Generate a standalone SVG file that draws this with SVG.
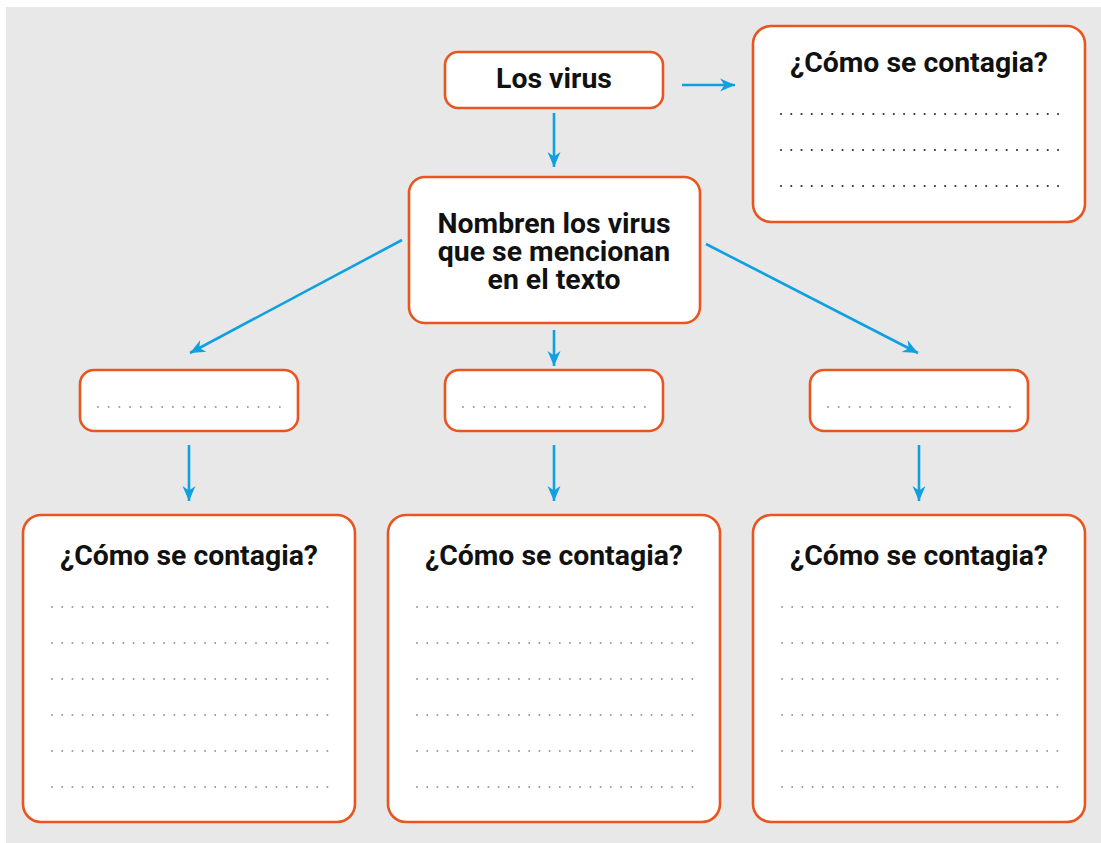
<svg xmlns="http://www.w3.org/2000/svg" width="1101" height="843" viewBox="0 0 1101 843">
<style>
.box{fill:#fff;stroke:#E9551F;stroke-width:2.6}
.t{font-family:Roboto,"Liberation Sans",sans-serif;font-weight:bold;font-size:28.4px;fill:#111;text-anchor:middle}
.dk{stroke:#333;stroke-width:2.2;stroke-linecap:round;stroke-dasharray:0 10.26;fill:none}
.gr{stroke:#9a9a9a;stroke-width:2;stroke-linecap:round;stroke-dasharray:0 10.2;fill:none}
.ar{stroke:#0FA0E2;stroke-width:2.6;fill:none;marker-end:url(#ah)}
</style>
<defs>
<marker id="ah" markerUnits="userSpaceOnUse" markerWidth="20" markerHeight="16" viewBox="-16 -8 18 16" refX="0" refY="0" orient="auto">
<path d="M0,0 L-15,-6.5 L-10.5,0 L-15,6.5 Z" fill="#0FA0E2"/>
</marker>
</defs>
<rect x="6" y="7" width="1095" height="836" fill="#E8E8E8"/>
<g id="connectors">
<line class="ar" x1="682" y1="85" x2="735" y2="85"/>
<line class="ar" x1="554" y1="113" x2="554" y2="167"/>
<line class="ar" x1="402" y1="240" x2="190" y2="353"/>
<line class="ar" x1="706" y1="244" x2="918" y2="353"/>
<line class="ar" x1="554" y1="330" x2="554" y2="366"/>
<line class="ar" x1="189" y1="445" x2="189" y2="501"/>
<line class="ar" x1="554" y1="445" x2="554" y2="501"/>
<line class="ar" x1="919" y1="445" x2="919" y2="501"/>
</g>
<g id="los-virus">
<rect class="box" x="445" y="52" width="218" height="56" rx="13"/>
<text class="t" x="554" y="88">Los virus</text>
</g>
<g id="contagia-top">
<rect class="box" x="753" y="26" width="332" height="196" rx="18"/>
<text class="t" x="919" y="72">¿Cómo se contagia?</text>
<path class="dk" d="M781,114H1059M781,150H1059M781,186H1059"/>
</g>
<g id="nombren">
<rect class="box" x="409" y="177" width="291" height="146" rx="16"/>
<text class="t" x="554" y="233"><tspan x="554" y="233">Nombren los virus</tspan><tspan x="554" y="261">que se mencionan</tspan><tspan x="554" y="289">en el texto</tspan></text>
</g>
<g id="virus-1">
<rect class="box" x="80" y="370" width="218" height="61" rx="14"/>
<path class="gr" style="stroke-dasharray:0 10.7" d="M98,407H281"/>
</g>
<g id="virus-2">
<rect class="box" x="445" y="370" width="218" height="61" rx="14"/>
<path class="gr" style="stroke-dasharray:0 10.7" d="M463,407H646"/>
</g>
<g id="virus-3">
<rect class="box" x="810" y="370" width="218" height="61" rx="14"/>
<path class="gr" style="stroke-dasharray:0 10.7" d="M828,407H1011"/>
</g>
<g id="contagia-1">
<rect class="box" x="23" y="515" width="332" height="307" rx="18"/>
<text class="t" x="189" y="565">¿Cómo se contagia?</text>
<path class="gr" d="M52,607H328M52,643H328M52,679H328M52,715H328M52,751H328M52,787H328"/>
</g>
<g id="contagia-2">
<rect class="box" x="388" y="515" width="332" height="307" rx="18"/>
<text class="t" x="554" y="565">¿Cómo se contagia?</text>
<path class="gr" d="M417,607H693M417,643H693M417,679H693M417,715H693M417,751H693M417,787H693"/>
</g>
<g id="contagia-3">
<rect class="box" x="753" y="515" width="332" height="307" rx="18"/>
<text class="t" x="919" y="565">¿Cómo se contagia?</text>
<path class="gr" d="M782,607H1058M782,643H1058M782,679H1058M782,715H1058M782,751H1058M782,787H1058"/>
</g>
</svg>
